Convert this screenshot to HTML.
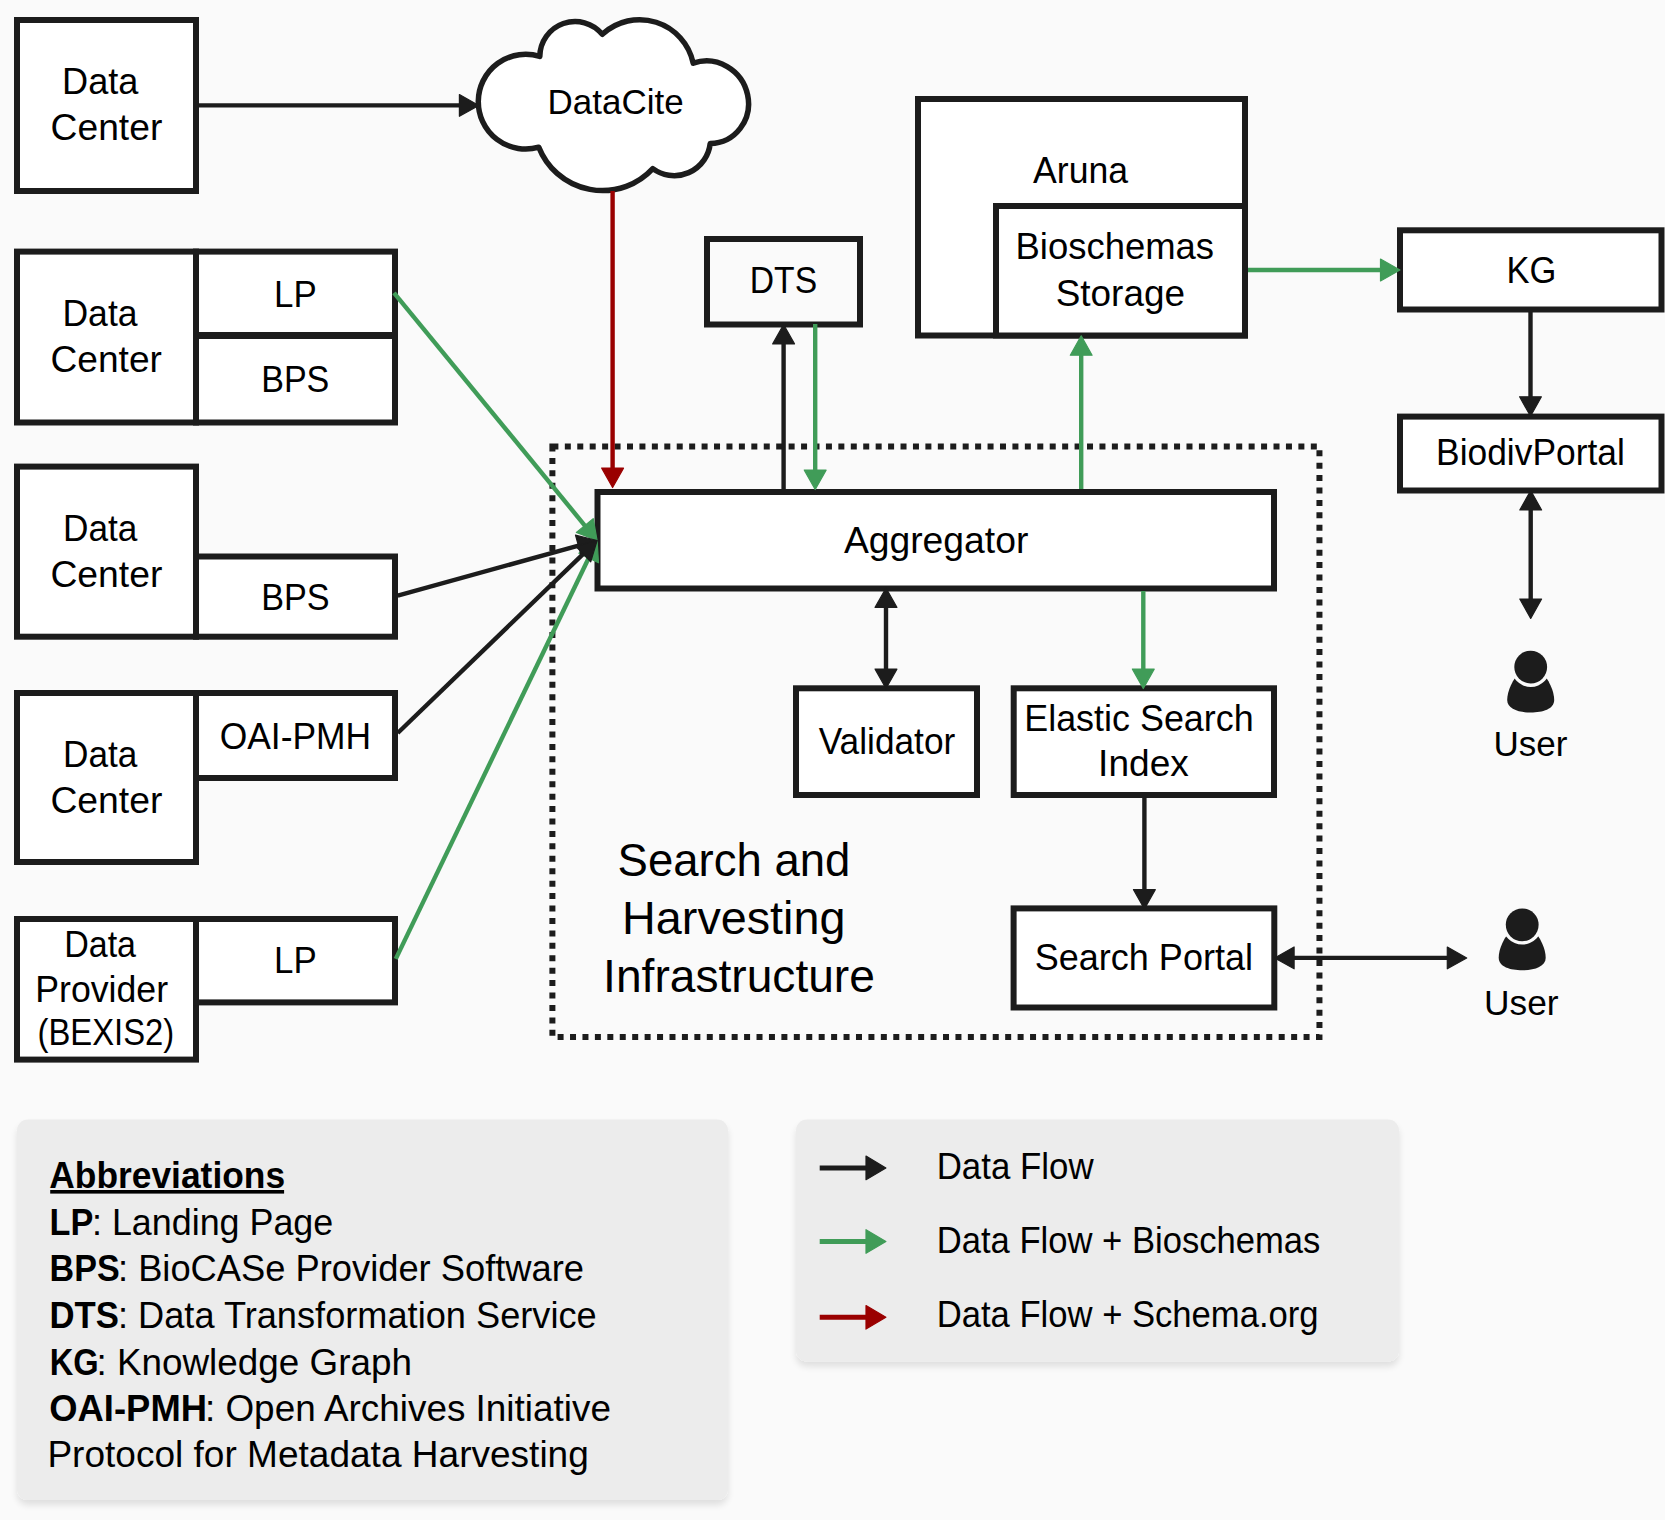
<!DOCTYPE html>
<html><head><meta charset="utf-8"><title>Search and Harvesting Infrastructure</title>
<style>html,body{margin:0;padding:0;background:#fafafa;}svg{display:block;}text{font-family:"Liberation Sans",sans-serif;fill:#000;}</style>
</head><body>
<svg width="1665" height="1520" viewBox="0 0 1665 1520">
<defs><filter id="sh" x="-5%" y="-5%" width="110%" height="115%"><feGaussianBlur in="SourceAlpha" stdDeviation="3.5"/><feOffset dy="5"/><feComponentTransfer><feFuncA type="linear" slope="0.11"/></feComponentTransfer><feMerge><feMergeNode/><feMergeNode in="SourceGraphic"/></feMerge></filter></defs>
<rect x="0" y="0" width="1665" height="1520" fill="#fafafa"/>
<rect x="17" y="1119.5" width="711" height="380.5" rx="11" ry="11" fill="#ececec" filter="url(#sh)"/>
<rect x="796" y="1119.5" width="603" height="242" rx="11" ry="11" fill="#ececec" filter="url(#sh)"/>
<path d="M552.4,446.4 H1319.45 V1037.1 H552.4 Z" fill="none" stroke="#1c1c1c" stroke-width="6" stroke-dasharray="6 6.433" stroke-linejoin="miter"/>
<rect x="17.0" y="20.0" width="179.0" height="171.0" fill="#fff" stroke="#1c1c1c" stroke-width="6"/>
<rect x="17.0" y="251.6" width="179.0" height="170.9" fill="#fff" stroke="#1c1c1c" stroke-width="6"/>
<rect x="196.0" y="251.6" width="199.0" height="83.4" fill="#fff" stroke="#1c1c1c" stroke-width="6"/>
<rect x="196.0" y="336.0" width="199.0" height="86.5" fill="#fff" stroke="#1c1c1c" stroke-width="6"/>
<rect x="17.0" y="466.6" width="179.0" height="170.1" fill="#fff" stroke="#1c1c1c" stroke-width="6"/>
<rect x="196.0" y="556.5" width="199.0" height="80.2" fill="#fff" stroke="#1c1c1c" stroke-width="6"/>
<rect x="17.0" y="693.0" width="179.0" height="169.0" fill="#fff" stroke="#1c1c1c" stroke-width="6"/>
<rect x="196.0" y="693.0" width="199.0" height="85.0" fill="#fff" stroke="#1c1c1c" stroke-width="6"/>
<rect x="17.0" y="919.0" width="179.0" height="140.6" fill="#fff" stroke="#1c1c1c" stroke-width="6"/>
<rect x="196.0" y="919.0" width="199.0" height="83.4" fill="#fff" stroke="#1c1c1c" stroke-width="6"/>
<rect x="707.0" y="239.0" width="153.0" height="85.5" fill="#fafafa" stroke="#1c1c1c" stroke-width="6"/>
<rect x="918.0" y="99.0" width="327.0" height="236.5" fill="#fff" stroke="#1c1c1c" stroke-width="6"/>
<rect x="996.0" y="206.0" width="249.0" height="129.5" fill="#fff" stroke="#1c1c1c" stroke-width="6"/>
<rect x="1400.0" y="230.3" width="261.5" height="79.2" fill="#fff" stroke="#1c1c1c" stroke-width="6"/>
<rect x="1400.0" y="416.6" width="261.5" height="73.9" fill="#fff" stroke="#1c1c1c" stroke-width="6"/>
<rect x="597.5" y="492.0" width="676.5" height="96.5" fill="#fff" stroke="#1c1c1c" stroke-width="6"/>
<rect x="796.0" y="688.3" width="181.0" height="106.7" fill="#fff" stroke="#1c1c1c" stroke-width="6"/>
<rect x="1013.7" y="688.3" width="260.3" height="106.7" fill="#fff" stroke="#1c1c1c" stroke-width="6"/>
<rect x="1013.6" y="908.4" width="260.7" height="99.1" fill="#fff" stroke="#1c1c1c" stroke-width="6"/>
<path d="M539.8,56.4 A35.3,35.3 0 0 1 602.3,34.3 A54.8,54.8 0 0 1 693.2,63.2 A40.26,41.79 147 1 1 710.2,143.6 A36.2,36.2 0 0 1 652.8,168.6 A68.5,68.5 0 0 1 538.8,147.2 A47.4,47.4 0 1 1 539.8,56.4 Z" fill="#fff" stroke="#1c1c1c" stroke-width="5.5" stroke-linejoin="round"/>
<line x1="199.00" y1="105.40" x2="461.40" y2="105.40" stroke="#1c1c1c" stroke-width="4.4"/>
<polygon points="478.80,105.40 459.40,116.30 459.40,94.50" fill="#1c1c1c" stroke="#1c1c1c" stroke-width="1.2" stroke-linejoin="round"/>
<line x1="612.60" y1="191.00" x2="612.60" y2="470.10" stroke="#9a0000" stroke-width="4.4"/>
<polygon points="612.60,487.50 601.70,468.10 623.50,468.10" fill="#9a0000" stroke="#9a0000" stroke-width="1.2" stroke-linejoin="round"/>
<line x1="783.60" y1="489.00" x2="783.60" y2="341.90" stroke="#1c1c1c" stroke-width="4.4"/>
<polygon points="783.60,324.50 794.50,343.90 772.70,343.90" fill="#1c1c1c" stroke="#1c1c1c" stroke-width="1.2" stroke-linejoin="round"/>
<line x1="815.20" y1="324.00" x2="815.20" y2="472.10" stroke="#409c58" stroke-width="4.4"/>
<polygon points="815.20,489.50 804.30,470.10 826.10,470.10" fill="#409c58" stroke="#409c58" stroke-width="1.2" stroke-linejoin="round"/>
<line x1="1081.20" y1="489.00" x2="1081.20" y2="353.20" stroke="#409c58" stroke-width="4.4"/>
<polygon points="1081.20,335.80 1092.10,355.20 1070.30,355.20" fill="#409c58" stroke="#409c58" stroke-width="1.2" stroke-linejoin="round"/>
<line x1="1248.00" y1="270.00" x2="1382.50" y2="270.00" stroke="#409c58" stroke-width="4.4"/>
<polygon points="1399.90,270.00 1380.50,280.90 1380.50,259.10" fill="#409c58" stroke="#409c58" stroke-width="1.2" stroke-linejoin="round"/>
<line x1="1530.50" y1="312.00" x2="1530.50" y2="398.80" stroke="#1c1c1c" stroke-width="4.4"/>
<polygon points="1530.50,416.20 1519.60,396.80 1541.40,396.80" fill="#1c1c1c" stroke="#1c1c1c" stroke-width="1.2" stroke-linejoin="round"/>
<line x1="1530.70" y1="505.00" x2="1530.70" y2="603.00" stroke="#1c1c1c" stroke-width="4.4"/>
<polygon points="1530.70,490.60 1541.60,510.00 1519.80,510.00" fill="#1c1c1c" stroke="#1c1c1c" stroke-width="1.2" stroke-linejoin="round"/>
<polygon points="1530.70,618.40 1519.80,599.00 1541.60,599.00" fill="#1c1c1c" stroke="#1c1c1c" stroke-width="1.2" stroke-linejoin="round"/>
<line x1="886.00" y1="600.00" x2="886.00" y2="678.00" stroke="#1c1c1c" stroke-width="4.4"/>
<polygon points="886.00,588.00 896.90,607.40 875.10,607.40" fill="#1c1c1c" stroke="#1c1c1c" stroke-width="1.2" stroke-linejoin="round"/>
<polygon points="886.00,688.50 875.10,669.10 896.90,669.10" fill="#1c1c1c" stroke="#1c1c1c" stroke-width="1.2" stroke-linejoin="round"/>
<line x1="1143.30" y1="591.00" x2="1143.30" y2="671.10" stroke="#409c58" stroke-width="4.4"/>
<polygon points="1143.30,688.50 1132.40,669.10 1154.20,669.10" fill="#409c58" stroke="#409c58" stroke-width="1.2" stroke-linejoin="round"/>
<line x1="1144.40" y1="798.00" x2="1144.40" y2="891.60" stroke="#1c1c1c" stroke-width="4.4"/>
<polygon points="1144.40,909.00 1133.50,889.60 1155.30,889.60" fill="#1c1c1c" stroke="#1c1c1c" stroke-width="1.2" stroke-linejoin="round"/>
<line x1="1290.00" y1="957.90" x2="1452.00" y2="957.90" stroke="#1c1c1c" stroke-width="4.4"/>
<polygon points="1274.70,957.90 1294.10,947.00 1294.10,968.80" fill="#1c1c1c" stroke="#1c1c1c" stroke-width="1.2" stroke-linejoin="round"/>
<polygon points="1466.70,957.90 1447.30,968.80 1447.30,947.00" fill="#1c1c1c" stroke="#1c1c1c" stroke-width="1.2" stroke-linejoin="round"/>
<line x1="394.00" y1="292.80" x2="586.07" y2="527.04" stroke="#409c58" stroke-width="4.4"/>
<polygon points="597.10,540.50 576.37,532.41 593.23,518.59" fill="#409c58" stroke="#409c58" stroke-width="1.2" stroke-linejoin="round"/>
<line x1="395.80" y1="958.90" x2="589.56" y2="556.18" stroke="#409c58" stroke-width="4.4"/>
<polygon points="597.10,540.50 598.51,562.71 578.87,553.26" fill="#409c58" stroke="#409c58" stroke-width="1.2" stroke-linejoin="round"/>
<line x1="397.75" y1="595.60" x2="580.33" y2="545.14" stroke="#1c1c1c" stroke-width="4.4"/>
<polygon points="597.10,540.50 581.30,556.17 575.50,535.16" fill="#1c1c1c" stroke="#1c1c1c" stroke-width="1.2" stroke-linejoin="round"/>
<line x1="397.75" y1="733.00" x2="584.58" y2="552.59" stroke="#1c1c1c" stroke-width="4.4"/>
<polygon points="597.10,540.50 590.72,561.82 575.57,546.14" fill="#1c1c1c" stroke="#1c1c1c" stroke-width="1.2" stroke-linejoin="round"/>
<path d="M1520.7,671.1 C1512.7,679.1 1507.2,691.1 1507.2,700.1 C1507.2,709.1 1518.7,712.6 1530.7,712.6 C1542.7,712.6 1554.2,709.1 1554.2,700.1 C1554.2,691.1 1548.7,679.1 1540.7,671.1 Z" fill="#1c1c1c"/>
<circle cx="1530.7" cy="667.1" r="19.8" fill="#fafafa"/>
<circle cx="1530.7" cy="667.1" r="16.4" fill="#1c1c1c"/>
<path d="M1512.2,928.8 C1504.2,936.8 1498.7,948.8 1498.7,957.8 C1498.7,966.8 1510.2,970.3 1522.2,970.3 C1534.2,970.3 1545.7,966.8 1545.7,957.8 C1545.7,948.8 1540.2,936.8 1532.2,928.8 Z" fill="#1c1c1c"/>
<circle cx="1522.2" cy="924.8" r="19.8" fill="#fafafa"/>
<circle cx="1522.2" cy="924.8" r="16.4" fill="#1c1c1c"/>
<line x1="819.70" y1="1167.90" x2="868.00" y2="1167.90" stroke="#1c1c1c" stroke-width="5"/>
<polygon points="885.90,1167.90 866.00,1179.70 866.00,1156.10" fill="#1c1c1c" stroke="#1c1c1c" stroke-width="1.2" stroke-linejoin="round"/>
<line x1="819.70" y1="1241.50" x2="868.00" y2="1241.50" stroke="#409c58" stroke-width="5"/>
<polygon points="885.90,1241.50 866.00,1253.30 866.00,1229.70" fill="#409c58" stroke="#409c58" stroke-width="1.2" stroke-linejoin="round"/>
<line x1="819.70" y1="1317.30" x2="868.00" y2="1317.30" stroke="#9a0000" stroke-width="5"/>
<polygon points="885.90,1317.30 866.00,1329.10 866.00,1305.50" fill="#9a0000" stroke="#9a0000" stroke-width="1.2" stroke-linejoin="round"/>
<rect x="50.2" y="1190" width="233.9" height="3.6" fill="#000"/>
<text x="62.09" y="94.00" font-weight="400" font-size="36" textLength="76.36" lengthAdjust="spacingAndGlyphs">Data</text>
<text x="50.63" y="140.40" font-weight="400" font-size="36" textLength="111.66" lengthAdjust="spacingAndGlyphs">Center</text>
<text x="62.44" y="325.80" font-weight="400" font-size="36" textLength="75.11" lengthAdjust="spacingAndGlyphs">Data</text>
<text x="50.54" y="371.60" font-weight="400" font-size="36" textLength="111.36" lengthAdjust="spacingAndGlyphs">Center</text>
<text x="274.09" y="306.70" font-weight="400" font-size="36" textLength="42.69" lengthAdjust="spacingAndGlyphs">LP</text>
<text x="261.16" y="392.00" font-weight="400" font-size="36" textLength="68.18" lengthAdjust="spacingAndGlyphs">BPS</text>
<text x="63.07" y="540.70" font-weight="400" font-size="36" textLength="74.38" lengthAdjust="spacingAndGlyphs">Data</text>
<text x="50.43" y="586.80" font-weight="400" font-size="36" textLength="111.97" lengthAdjust="spacingAndGlyphs">Center</text>
<text x="261.15" y="609.70" font-weight="400" font-size="36" textLength="68.39" lengthAdjust="spacingAndGlyphs">BPS</text>
<text x="63.07" y="766.70" font-weight="400" font-size="36" textLength="74.38" lengthAdjust="spacingAndGlyphs">Data</text>
<text x="50.43" y="812.50" font-weight="400" font-size="36" textLength="111.97" lengthAdjust="spacingAndGlyphs">Center</text>
<text x="219.73" y="748.50" font-weight="400" font-size="36" textLength="151.43" lengthAdjust="spacingAndGlyphs">OAI-PMH</text>
<text x="64.16" y="957.40" font-weight="400" font-size="36" textLength="71.88" lengthAdjust="spacingAndGlyphs">Data</text>
<text x="35.23" y="1001.50" font-weight="400" font-size="36" textLength="132.83" lengthAdjust="spacingAndGlyphs">Provider</text>
<text x="37.58" y="1045.30" font-weight="400" font-size="36" textLength="136.69" lengthAdjust="spacingAndGlyphs">(BEXIS2)</text>
<text x="274.09" y="973.40" font-weight="400" font-size="36" textLength="42.69" lengthAdjust="spacingAndGlyphs">LP</text>
<text x="547.60" y="113.80" font-weight="400" font-size="35" textLength="136.07" lengthAdjust="spacingAndGlyphs">DataCite</text>
<text x="749.80" y="293.30" font-weight="400" font-size="36" textLength="67.27" lengthAdjust="spacingAndGlyphs">DTS</text>
<text x="1033.00" y="183.40" font-weight="400" font-size="36" textLength="95.08" lengthAdjust="spacingAndGlyphs">Aruna</text>
<text x="1015.46" y="258.60" font-weight="400" font-size="36" textLength="198.65" lengthAdjust="spacingAndGlyphs">Bioschemas</text>
<text x="1055.75" y="305.50" font-weight="400" font-size="36" textLength="129.19" lengthAdjust="spacingAndGlyphs">Storage</text>
<text x="1506.42" y="283.40" font-weight="400" font-size="36" textLength="49.87" lengthAdjust="spacingAndGlyphs">KG</text>
<text x="1436.05" y="464.60" font-weight="400" font-size="36" textLength="188.81" lengthAdjust="spacingAndGlyphs">BiodivPortal</text>
<text x="1493.50" y="756.40" font-weight="400" font-size="35" textLength="74.01" lengthAdjust="spacingAndGlyphs">User</text>
<text x="843.90" y="553.40" font-weight="400" font-size="36" textLength="184.43" lengthAdjust="spacingAndGlyphs">Aggregator</text>
<text x="818.70" y="754.20" font-weight="400" font-size="36" textLength="136.61" lengthAdjust="spacingAndGlyphs">Validator</text>
<text x="1024.21" y="730.70" font-weight="400" font-size="36" textLength="229.50" lengthAdjust="spacingAndGlyphs">Elastic Search</text>
<text x="1098.11" y="776.00" font-weight="400" font-size="36" textLength="90.70" lengthAdjust="spacingAndGlyphs">Index</text>
<text x="1034.80" y="970.10" font-weight="400" font-size="36" textLength="218.11" lengthAdjust="spacingAndGlyphs">Search Portal</text>
<text x="1484.07" y="1014.60" font-weight="400" font-size="35" textLength="74.54" lengthAdjust="spacingAndGlyphs">User</text>
<text x="617.62" y="875.60" font-weight="400" font-size="46" textLength="232.83" lengthAdjust="spacingAndGlyphs">Search and</text>
<text x="622.14" y="933.60" font-weight="400" font-size="46" textLength="223.28" lengthAdjust="spacingAndGlyphs">Harvesting</text>
<text x="603.09" y="991.70" font-weight="400" font-size="46" textLength="271.82" lengthAdjust="spacingAndGlyphs">Infrastructure</text>
<text x="49.22" y="1187.90" font-weight="700" font-size="36" textLength="235.91" lengthAdjust="spacingAndGlyphs">Abbreviations</text>
<text x="49.60" y="1234.60" font-weight="700" font-size="36" textLength="43.77" lengthAdjust="spacingAndGlyphs">LP</text>
<text x="92.01" y="1234.60" font-weight="400" font-size="36" textLength="241.20" lengthAdjust="spacingAndGlyphs">: Landing Page</text>
<text x="49.61" y="1281.40" font-weight="700" font-size="36" textLength="70.07" lengthAdjust="spacingAndGlyphs">BPS</text>
<text x="117.98" y="1281.40" font-weight="400" font-size="36" textLength="466.04" lengthAdjust="spacingAndGlyphs">: BioCASe Provider Software</text>
<text x="49.57" y="1327.60" font-weight="700" font-size="36" textLength="69.39" lengthAdjust="spacingAndGlyphs">DTS</text>
<text x="117.98" y="1327.60" font-weight="400" font-size="36" textLength="478.73" lengthAdjust="spacingAndGlyphs">: Data Transformation Service</text>
<text x="49.69" y="1374.50" font-weight="700" font-size="36" textLength="48.92" lengthAdjust="spacingAndGlyphs">KG</text>
<text x="96.43" y="1374.50" font-weight="400" font-size="36" textLength="315.53" lengthAdjust="spacingAndGlyphs">: Knowledge Graph</text>
<text x="49.28" y="1421.20" font-weight="700" font-size="36" textLength="157.74" lengthAdjust="spacingAndGlyphs">OAI-PMH</text>
<text x="204.93" y="1421.20" font-weight="400" font-size="36" textLength="406.01" lengthAdjust="spacingAndGlyphs">: Open Archives Initiative</text>
<text x="47.41" y="1467.30" font-weight="400" font-size="36" textLength="541.42" lengthAdjust="spacingAndGlyphs">Protocol for Metadata Harvesting</text>
<text x="936.70" y="1178.80" font-weight="400" font-size="36" textLength="156.86" lengthAdjust="spacingAndGlyphs">Data Flow</text>
<text x="936.72" y="1252.70" font-weight="400" font-size="36" textLength="383.61" lengthAdjust="spacingAndGlyphs">Data Flow + Bioschemas</text>
<text x="936.72" y="1327.00" font-weight="400" font-size="36" textLength="381.89" lengthAdjust="spacingAndGlyphs">Data Flow + Schema.org</text>
</svg>
</body></html>
